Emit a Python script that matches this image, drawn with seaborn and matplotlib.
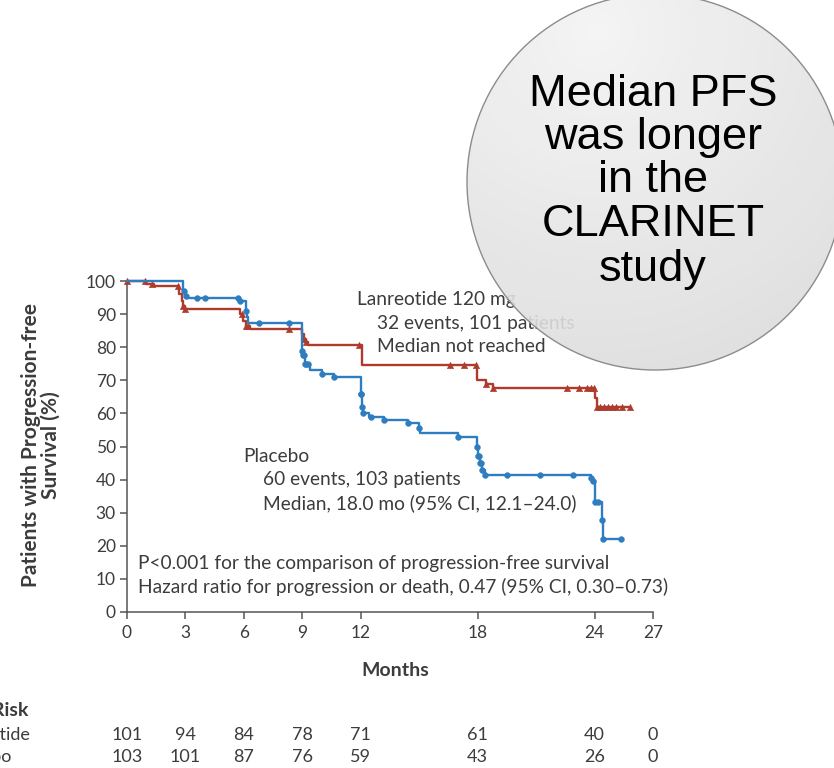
import numpy as np
import matplotlib
matplotlib.use("Agg")
import matplotlib.pyplot as plt
import matplotlib.transforms as mtransforms
from matplotlib.patches import Circle
import seaborn as sns

# ---------------- data ----------------
months_ticks = [0, 3, 6, 9, 12, 18, 24, 27]
y_ticks = [0, 10, 20, 30, 40, 50, 60, 70, 80, 90, 100]

# Lanreotide step curve (time in months, % progression-free)
lan_times = [0, 1.0, 1.4, 2.65, 2.8, 2.9, 3.0, 5.8, 5.95, 6.1, 6.3, 9.0, 9.1, 9.2, 9.3,
             12.05, 17.95, 18.45, 18.8, 24.0, 24.1, 25.8]
lan_surv = [100, 99, 98.5, 96, 94, 92.5, 91.5, 90, 88, 86.5, 85.4, 84, 82.5, 81.5, 80.7,
            74.6, 70.1, 69, 67.6, 64.6, 62, 62]
lan_censor = [0, 0.9, 1.3, 2.6, 2.9, 3.0, 5.9, 6.1, 6.2, 8.3, 9.1, 9.2, 11.9, 16.6, 17.3,
              17.9, 18.45, 18.8, 22.6, 23.2, 23.6, 23.8, 23.95, 24.1, 24.3, 24.5, 24.7,
              24.9, 25.1, 25.4, 25.8]

# Placebo step curve
pla_times = [0, 2.9, 3.0, 3.1, 5.8, 6.1, 6.15, 6.2, 9.0, 9.05, 9.15, 9.4, 10.0, 10.6,
             12.0, 12.05, 12.1, 12.4, 13.2, 14.4, 15.0, 15.05, 17.0, 17.95, 18.0, 18.1,
             18.2, 18.4, 23.8, 23.9, 24.0, 24.4, 24.45, 25.35]
pla_surv = [100, 97, 95.5, 95, 94, 91, 89, 87.4, 79, 77.5, 75, 73, 72, 71,
            66, 62, 60, 59, 58, 57, 55.5, 54, 53, 50, 47, 45,
            43, 41.4, 40.5, 39.5, 33.3, 27.8, 22, 22]
pla_censor = [2.95, 3.05, 3.6, 4.0, 5.7, 5.8, 6.1, 6.8, 8.3, 9.0, 9.05, 9.1, 9.15, 9.2,
              9.3, 10.0, 10.6, 12.0, 12.02, 12.05, 12.1, 12.5, 13.2, 14.4, 15.0, 17.0,
              17.95, 18.0, 18.05, 18.1, 18.15, 18.2, 18.4, 19.5, 21.2, 22.9, 23.8, 23.9,
              24.0, 24.2, 24.4, 24.45, 25.35]

risk_lan = [101, 94, 84, 78, 71, 61, 40, 0]
risk_pla = [103, 101, 87, 76, 59, 43, 26, 0]

bubble_lines = ["Median PFS", "was longer", "in the", "CLARINET", "study"]


def step_lookup(times, surv, t):
    idx = np.searchsorted(np.asarray(times), np.asarray(t), side="right") - 1
    return np.asarray(surv)[idx]


# ---------------- style ----------------
sns.set_theme(style="white")
plt.rcParams["font.family"] = ["Lato", "DejaVu Sans"]

RED = "#AE3B2C"
BLUE = "#2F7DC1"
TXT = "#3c3c3c"
AX = "#555555"

W, H = 834, 768
fig = plt.figure(figsize=(W / 100, H / 100), dpi=100)
fig.patch.set_facecolor("white")

x0, x1 = 127, 653
y0, y1 = 612, 281
ax = fig.add_axes([x0 / W, 1 - y0 / H, (x1 - x0) / W, (y0 - y1) / H])
ax.set_facecolor("none")

sns.lineplot(x=lan_times, y=lan_surv, drawstyle="steps-post", color=RED, lw=1.7,
             estimator=None, sort=False, ax=ax, clip_on=False, zorder=3)
sns.lineplot(x=pla_times, y=pla_surv, drawstyle="steps-post", color=BLUE, lw=1.7,
             estimator=None, sort=False, ax=ax, clip_on=False, zorder=4)
sns.scatterplot(x=lan_censor, y=step_lookup(lan_times, lan_surv, lan_censor), marker="^",
                s=22, color=RED, edgecolor=RED, linewidth=0.3, ax=ax, clip_on=False, zorder=3)
sns.scatterplot(x=pla_censor, y=step_lookup(pla_times, pla_surv, pla_censor), marker="o",
                s=18, color=BLUE, edgecolor=BLUE, linewidth=0.3, ax=ax, clip_on=False, zorder=4)

ax.set_xlim(0, 27)
ax.set_ylim(0, 100)
ax.set_xticks(months_ticks)
ax.set_yticks(y_ticks)
ax.set_xticklabels([str(v) for v in months_ticks])
ax.set_yticklabels([str(v) for v in y_ticks])
for s in ["top", "right"]:
    ax.spines[s].set_visible(False)
for s in ["left", "bottom"]:
    ax.spines[s].set_color(AX)
    ax.spines[s].set_linewidth(1.1)
ax.tick_params(axis="both", direction="out", length=5, width=1.1, color=AX,
               labelsize=12.5, labelcolor=TXT, pad=3)
ax.tick_params(axis="x", pad=4)
ax.tick_params(left=True, bottom=True)

ax.set_xlabel("Months", fontsize=14, fontweight="bold", color=TXT)
ax.xaxis.set_label_coords((395 - x0) / (x1 - x0), (y0 - 670) / (y0 - y1))
ax.xaxis.label.set_va("center")
ax.set_ylabel("Patients with Progression-free\nSurvival (%)", fontsize=15,
              fontweight="bold", color=TXT, linespacing=1.0)
ax.yaxis.set_label_coords((41 - x0) / (x1 - x0), (y0 - 445) / (y0 - y1))
ax.yaxis.label.set_va("center")

fs = 13.8
ax.text(11.8, 94.3, "Lanreotide 120 mg", fontsize=fs, color=TXT, va="center")
ax.text(12.83, 87.3, "32 events, 101 patients", fontsize=fs, color=TXT, va="center")
ax.text(12.83, 80.1, "Median not reached", fontsize=fs, color=TXT, va="center")
ax.text(5.95, 47.1, "Placebo", fontsize=fs, color=TXT, va="center")
ax.text(6.98, 39.9, "60 events, 103 patients", fontsize=fs, color=TXT, va="center")
ax.text(6.98, 32.9, "Median, 18.0 mo (95% CI, 12.1\u201324.0)", fontsize=fs, color=TXT, va="center")
ax.text(0.56, 14.8, "P<0.001 for the comparison of progression-free survival",
        fontsize=fs, color=TXT, va="center")
ax.text(0.56, 7.55, "Hazard ratio for progression or death, 0.47 (95% CI, 0.30\u20130.73)",
        fontsize=fs, color=TXT, va="center")

# number at risk table
tr = mtransforms.blended_transform_factory(ax.transData, fig.transFigure)
for xv, a, b in zip(months_ticks, risk_lan, risk_pla):
    ax.text(xv, 1 - 735 / H, str(a), transform=tr, ha="center", va="center",
            fontsize=13, color=TXT, clip_on=False)
    ax.text(xv, 1 - 757 / H, str(b), transform=tr, ha="center", va="center",
            fontsize=13, color=TXT, clip_on=False)
fig.text(28 / W, 1 - 710 / H, "No. at Risk", ha="right", va="center", fontsize=14,
         fontweight="bold", color=TXT)
fig.text(30 / W, 1 - 735 / H, "Lanreotide", ha="right", va="center", fontsize=13, color=TXT)
fig.text(12 / W, 1 - 757 / H, "Placebo", ha="right", va="center", fontsize=13, color=TXT)

# ---------------- overlay bubble ----------------
ov = fig.add_axes([0, 0, 1, 1], zorder=10)
ov.set_xlim(0, W)
ov.set_ylim(H, 0)
ov.axis("off")
ov.patch.set_alpha(0)

cx, cy, r = 655, 182, 188
gx, gy = np.meshgrid(np.arange(W) + 0.5, np.arange(H) + 0.5)
d = np.sqrt((gx - (cx - 60)) ** 2 + (gy - (cy - 150)) ** 2) / (1.9 * r)
shade = np.clip(0.955 - 0.09 * d, 0.84, 0.96)
img = np.dstack([shade, shade, shade])
im = ov.imshow(img, extent=(0, W, H, 0), interpolation="bilinear", alpha=0.9, zorder=1)
clip = Circle((cx, cy), r, transform=ov.transData, facecolor="none", edgecolor="none")
ov.add_patch(clip)
im.set_clip_path(clip)
ov.add_patch(Circle((cx, cy), r, facecolor="none", edgecolor="#8c8c8c", lw=1.0, zorder=2))

for txt, yy in zip(bubble_lines, [95, 138, 181, 225, 270]):
    ov.text(653, yy, txt, ha="center", va="center", fontsize=32.5,
            family=["Liberation Sans", "DejaVu Sans"], color="black", zorder=3)

fig.savefig("out.png", dpi=100, facecolor="white")
